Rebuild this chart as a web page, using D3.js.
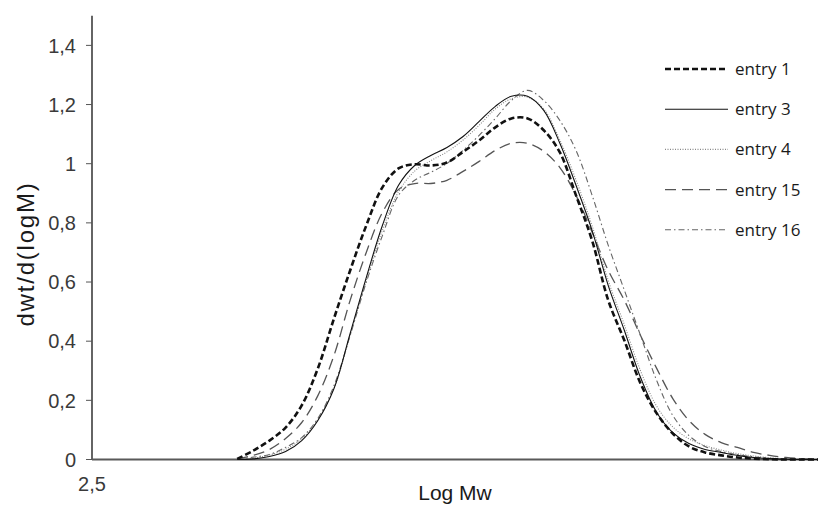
<!DOCTYPE html>
<html>
<head>
<meta charset="utf-8">
<script src="https://cdn.jsdelivr.net/npm/d3@7"></script>
<style>
  body { margin: 0; background: #fff; }
  svg { display: block; }
  .tick-label { font-family: "Liberation Sans", Arial, sans-serif; font-size: 20px; fill: #3a3a3a; }
  .axis-title { font-family: "Liberation Sans", Arial, sans-serif; fill: #1a1a1a; }
  .legend-label { font-family: "Open Sans", "Noto Sans", sans-serif; font-size: 17px; fill: #1a1a1a; }
</style>
</head>
<body>
<div id="chart"></div>
<script>
// --- data ---
const logM = [3.4, 3.5, 3.6, 3.7, 3.8, 3.9, 4.0, 4.1, 4.2, 4.3, 4.4, 4.5, 4.6, 4.7, 4.8, 4.9,
  5.0, 5.1, 5.2, 5.3, 5.4, 5.5, 5.6, 5.7, 5.8, 5.9, 6.0, 6.1, 6.2, 6.3, 6.4, 6.5, 6.6, 6.7, 6.8, 6.9, 7.0];

const entry1 = [0.002, 0.03, 0.064, 0.108, 0.183, 0.308, 0.477, 0.639, 0.791, 0.92, 0.984, 0.998, 0.994, 1.004, 1.04, 1.079,
  1.123, 1.153, 1.153, 1.113, 1.038, 0.893, 0.74, 0.538, 0.402, 0.257, 0.156, 0.088, 0.044, 0.024, 0.014, 0.007, 0.003, 0.001, 0, 0, 0];
const entry3 = [0.0, 0.002, 0.01, 0.027, 0.064, 0.132, 0.24, 0.426, 0.615, 0.791, 0.927, 0.994, 1.028, 1.055, 1.092, 1.143,
  1.194, 1.228, 1.228, 1.18, 1.069, 0.927, 0.774, 0.588, 0.436, 0.277, 0.159, 0.091, 0.054, 0.034, 0.024, 0.014, 0.007, 0.003, 0.001, 0, 0];
const entry4 = [0.0, 0.004, 0.015, 0.035, 0.07, 0.135, 0.24, 0.42, 0.605, 0.775, 0.905, 0.975, 1.01, 1.04, 1.08, 1.13,
  1.185, 1.22, 1.225, 1.185, 1.08, 0.945, 0.79, 0.605, 0.455, 0.3, 0.18, 0.11, 0.07, 0.047, 0.032, 0.02, 0.012, 0.006, 0.002, 0, 0];
const entry15 = [0.002, 0.014, 0.034, 0.071, 0.125, 0.216, 0.352, 0.538, 0.7, 0.835, 0.913, 0.933, 0.933, 0.944, 0.974, 1.008,
  1.045, 1.069, 1.069, 1.042, 0.987, 0.893, 0.768, 0.639, 0.538, 0.419, 0.308, 0.206, 0.132, 0.085, 0.057, 0.041, 0.024, 0.014, 0.007, 0.003, 0.001];
const entry16 = [0.001, 0.008, 0.017, 0.041, 0.074, 0.139, 0.25, 0.419, 0.599, 0.757, 0.893, 0.944, 0.971, 1.001, 1.045, 1.096,
  1.153, 1.214, 1.248, 1.214, 1.146, 1.045, 0.893, 0.724, 0.572, 0.419, 0.267, 0.149, 0.081, 0.044, 0.027, 0.017, 0.009, 0.004, 0.001, 0, 0];

const seriesNames = ["entry 1", "entry 3", "entry 4", "entry 15", "entry 16"];
const yTicks = [0, 0.2, 0.4, 0.6, 0.8, 1, 1.2, 1.4];
const yTickLabels = ["0", "0,2", "0,4", "0,6", "0,8", "1", "1,2", "1,4"];
const xTickLabel = "2,5";

// --- styles per series ---
const styles = [
  { stroke: "#111", width: 2.6, dash: "6,3" },
  { stroke: "#111", width: 1.1, dash: null },
  { stroke: "#888", width: 1.1, dash: "1,1.5" },
  { stroke: "#555", width: 1.3, dash: "11,6" },
  { stroke: "#666", width: 1.1, dash: "6,3,1.5,3" }
];

const W = 818, H = 507;
const svg = d3.select("#chart").append("svg").attr("width", W).attr("height", H);

const x = d3.scaleLinear().domain([2.5, 7.0]).range([92, 818]);
const y = d3.scaleLinear().domain([0, 1.5]).range([459.5, 15.8]);

// y axis
svg.append("line").attr("x1", x(2.5)).attr("x2", x(2.5)).attr("y1", y(1.5)).attr("y2", y(0))
  .attr("stroke", "#111").attr("stroke-width", 1.3);
yTicks.forEach((t, i) => {
  svg.append("line").attr("x1", x(2.5) - 6).attr("x2", x(2.5)).attr("y1", y(t)).attr("y2", y(t))
    .attr("stroke", "#555").attr("stroke-width", 1);
  svg.append("text").attr("class", "tick-label").attr("x", 76).attr("y", y(t))
    .attr("dy", "0.36em").attr("text-anchor", "end").text(yTickLabels[i]);
});

// x axis
svg.append("line").attr("x1", x(2.5)).attr("x2", x(7.0)).attr("y1", y(0)).attr("y2", y(0))
  .attr("stroke", "#595959").attr("stroke-width", 2.2);
svg.append("text").attr("class", "tick-label").attr("x", x(2.5)).attr("y", 491)
  .attr("text-anchor", "middle").text(xTickLabel);

// titles
svg.append("text").attr("class", "axis-title").attr("x", 455).attr("y", 500)
  .attr("text-anchor", "middle").style("font-size", "21px").text("Log Mw");
svg.append("text").attr("class", "axis-title")
  .attr("transform", "translate(34,254) rotate(-90)")
  .attr("text-anchor", "middle").style("font-size", "24px").style("letter-spacing", "1.8px")
  .text("dwt/d(logM)");

// curves
const allSeries = [entry1, entry3, entry4, entry15, entry16];
const line = d3.line().x(d => x(d[0])).y(d => y(d[1])).curve(d3.curveCatmullRom.alpha(0.5));
const drawOrder = [3, 4, 2, 1, 0];
drawOrder.forEach(i => {
  const pts = logM.map((m, k) => [m, allSeries[i][k]]);
  svg.append("path").datum(pts).attr("d", line)
    .attr("fill", "none")
    .attr("stroke", styles[i].stroke)
    .attr("stroke-width", styles[i].width)
    .attr("stroke-dasharray", styles[i].dash);
});

// legend
const legend = svg.append("g");
seriesNames.forEach((name, i) => {
  const ly = 69 + i * 40.2;
  legend.append("line").attr("x1", 665).attr("x2", 728).attr("y1", ly).attr("y2", ly)
    .attr("stroke", styles[i].stroke)
    .attr("stroke-width", styles[i].width)
    .attr("stroke-dasharray", styles[i].dash);
  legend.append("text").attr("class", "legend-label").attr("x", 735).attr("y", ly)
    .attr("dy", "0.35em").text(name);
});
</script>
</body>
</html>
